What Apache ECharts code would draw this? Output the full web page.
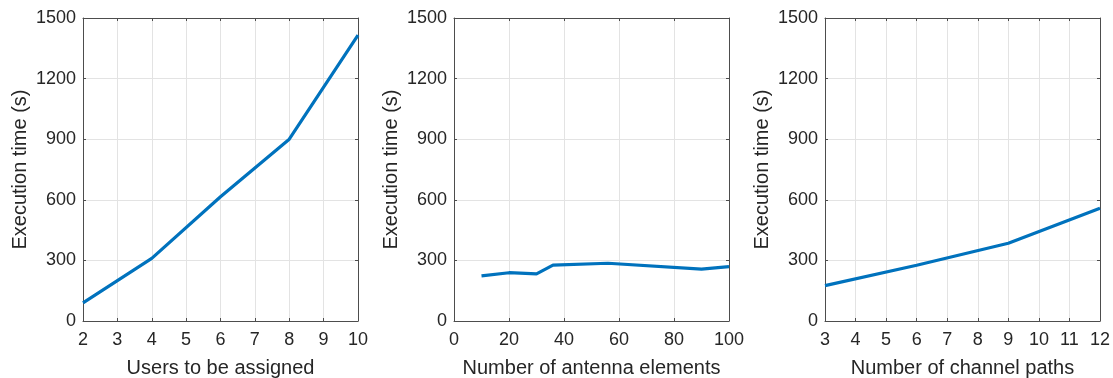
<!DOCTYPE html>
<html>
<head>
<meta charset="utf-8">
<script src="https://cdn.jsdelivr.net/npm/echarts@6/dist/echarts.min.js"></script>
<style>
  html, body { margin: 0; padding: 0; background: #fff; }
  #box { width: 1113px; height: 378px; }
</style>
</head>
<body>
<div id="box"></div>
<script>
// panel 1: users
const usersX = [2, 4, 6, 8, 10];
const usersTime = [90, 310, 615, 900, 1415];
// panel 2: antenna elements
const antennaX = [10, 20, 30, 36, 56, 90, 100];
const antennaTime = [223, 239, 233, 277, 286, 257, 269];
// panel 3: channel paths
const pathsX = [3, 6, 9, 12];
const pathsTime = [175, 276, 385, 558];

const yMin = 0, yMax = 1500, yStep = 300;

const panels = [
  { name: 'Users to be assigned', x: usersX, y: usersTime, min: 2, max: 10, step: 1, left: 83 },
  { name: 'Number of antenna elements', x: antennaX, y: antennaTime, min: 0, max: 100, step: 20, left: 454 },
  { name: 'Number of channel paths', x: pathsX, y: pathsTime, min: 3, max: 12, step: 1, left: 825 },
];

const textColor = '#262626';
const axisColor = '#4d4d4d';
const font = 'Liberation Sans, Arial, Helvetica, sans-serif';

const grid = [], xAxis = [], yAxis = [], series = [];

panels.forEach((p, i) => {
  grid.push({ left: p.left, top: 18, width: 275, height: 303, outerBoundsMode: 'none', containLabel: false });
  const xBase = {
    gridIndex: i,
    type: 'value',
    min: p.min,
    max: p.max,
    interval: p.step,
    axisLine: { show: true, onZero: false, lineStyle: { color: axisColor, width: 1 } },
    axisTick: { show: true, inside: true, length: 3, lineStyle: { color: axisColor } },
  };
  xAxis.push(Object.assign({}, xBase, {
    position: 'bottom',
    name: p.name,
    nameLocation: 'middle',
    nameGap: 37,
    nameTextStyle: { color: textColor, fontSize: 20, fontFamily: font },
    axisLabel: { color: textColor, fontSize: 18, fontFamily: font, margin: 10 },
    splitLine: { show: true, lineStyle: { color: '#e3e3e3', width: 1 } },
  }));
  xAxis.push(Object.assign({}, xBase, {
    position: 'top',
    axisLabel: { show: false },
    splitLine: { show: false },
  }));
  const yBase = {
    gridIndex: i,
    type: 'value',
    min: yMin,
    max: yMax,
    interval: yStep,
    axisLine: { show: true, onZero: false, lineStyle: { color: axisColor, width: 1 } },
    axisTick: { show: true, inside: true, length: 3, lineStyle: { color: axisColor } },
  };
  yAxis.push(Object.assign({}, yBase, {
    position: 'left',
    name: 'Execution time (s)',
    nameLocation: 'middle',
    nameGap: 53,
    nameTextStyle: { color: textColor, fontSize: 20, fontFamily: font },
    axisLabel: { color: textColor, fontSize: 18, fontFamily: font, margin: 7, formatter: v => String(v) },
    splitLine: { show: true, lineStyle: { color: '#e3e3e3', width: 1 } },
  }));
  yAxis.push(Object.assign({}, yBase, {
    position: 'right',
    axisLabel: { show: false },
    splitLine: { show: false },
  }));
  series.push({
    type: 'line',
    xAxisIndex: i * 2,
    yAxisIndex: i * 2,
    data: p.x.map((v, k) => [v, p.y[k]]),
    symbol: 'none',
    lineStyle: { color: '#0072BD', width: 3.2 },
    animation: false,
    z: 5,
  });
});

const chart = echarts.init(document.getElementById('box'));
chart.setOption({
  backgroundColor: '#fff',
  animation: false,
  grid,
  xAxis,
  yAxis,
  series,
});
</script>
</body>
</html>
